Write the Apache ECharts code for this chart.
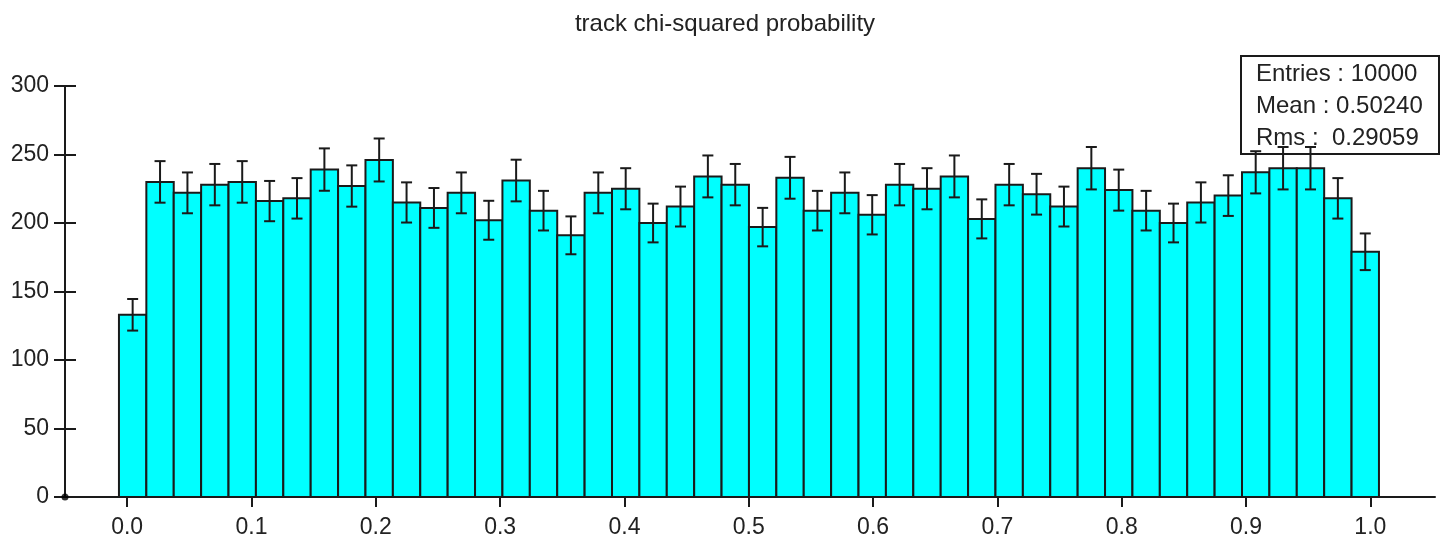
<!DOCTYPE html>
<html>
<head>
<meta charset="utf-8">
<style>
  html, body { margin: 0; padding: 0; background: #ffffff; }
  #chart { width: 1441px; height: 540px; }
</style>
<script src="https://cdn.jsdelivr.net/npm/echarts@6/dist/echarts.min.js"></script>
</head>
<body>
<div id="chart"></div>
<script>
// Histogram of track chi-squared probability: 46 equal-width bins.
const binCounts = [
  133, 230, 222, 228, 230, 216, 218, 239, 227, 246,
  215, 211, 222, 202, 231, 209, 191, 222, 225, 200,
  212, 234, 228, 197, 233, 209, 222, 206, 228, 225,
  234, 203, 228, 221, 212, 240, 224, 209, 200, 215,
  220, 237, 240, 240, 218, 179
];
const binStart = -0.0066;
const binWidth = 0.022033;

const xTickValues = [0.0, 0.1, 0.2, 0.3, 0.4, 0.5, 0.6, 0.7, 0.8, 0.9, 1.0];
const yTickValues = [0, 50, 100, 150, 200, 250, 300];

const titleText = 'track chi-squared probability';
const statsLines = ['Entries : 10000', 'Mean : 0.50240', 'Rms :  0.29059'];

const FONT = '"Liberation Sans", Arial, Helvetica, sans-serif';
const INK = '#1a1a1a';
const TEXT = '#222222';

// Bin rectangles: [lowEdge, highEdge, count]
const barData = binCounts.map((c, i) => [binStart + i * binWidth, binStart + (i + 1) * binWidth, c]);
// Poisson error bars: [binCentre, count - sqrt(count), count + sqrt(count)]
const errData = binCounts.map((c, i) => {
  const e = Math.sqrt(c);
  return [binStart + (i + 0.5) * binWidth, c - e, c + e];
});

const chart = echarts.init(document.getElementById('chart'), null, { renderer: 'canvas' });

const yBase = {
  type: 'value',
  min: yTickValues[0],
  max: yTickValues[yTickValues.length - 1],
  interval: 50,
  position: 'left',
  splitLine: { show: false }
};

chart.setOption({
  animation: false,
  backgroundColor: '#ffffff',
  title: {
    text: titleText,
    left: 720,
    top: 7,
    textAlign: 'center',
    textStyle: { fontFamily: FONT, fontSize: 24, fontWeight: 'normal', color: TEXT }
  },
  grid: { left: 65, right: 6, top: 86, bottom: 43, containLabel: false },
  xAxis: {
    type: 'value',
    min: -0.05,
    max: 1.052,
    splitLine: { show: false },
    axisLine: { show: true, onZero: false, lineStyle: { color: INK, width: 2 } },
    axisTick: {
      show: true, inside: false, length: 10,
      customValues: xTickValues,
      lineStyle: { color: INK, width: 2 }
    },
    axisLabel: {
      show: true,
      customValues: xTickValues,
      margin: 19,
      fontFamily: FONT, fontSize: 23, color: TEXT,
      formatter: v => Number(v).toFixed(1)
    }
  },
  yAxis: [
    Object.assign({}, yBase, {
      axisLine: { show: true, onZero: false, lineStyle: { color: INK, width: 2 } },
      axisTick: { show: true, inside: false, length: 11, lineStyle: { color: INK, width: 2 } },
      axisLabel: {
        show: true, margin: 16,
        fontFamily: FONT, fontSize: 23, color: TEXT,
        padding: [10, 0, 0, 0]
      }
    }),
    Object.assign({}, yBase, {
      axisLine: { show: false, onZero: false },
      axisTick: { show: true, inside: true, length: 11, lineStyle: { color: INK, width: 2 } },
      axisLabel: { show: false }
    })
  ],
  series: [
    {
      name: 'bins',
      type: 'custom',
      yAxisIndex: 0,
      data: barData,
      encode: { x: [0, 1], y: 2 },
      renderItem: function (params, api) {
        const p0 = api.coord([api.value(0), 0]);
        const p1 = api.coord([api.value(1), api.value(2)]);
        return {
          type: 'rect',
          shape: { x: p0[0], y: p1[1], width: p1[0] - p0[0], height: p0[1] - p1[1] },
          style: { fill: '#00ffff', stroke: INK, lineWidth: 2 }
        };
      },
      z: 2
    },
    {
      name: 'errors',
      type: 'custom',
      yAxisIndex: 0,
      data: errData,
      encode: { x: 0, y: [1, 2] },
      renderItem: function (params, api) {
        const lo = api.coord([api.value(0), api.value(1)]);
        const hi = api.coord([api.value(0), api.value(2)]);
        const half = 5.5;
        const st = { stroke: INK, lineWidth: 2 };
        return {
          type: 'group',
          children: [
            { type: 'line', shape: { x1: lo[0], y1: lo[1], x2: hi[0], y2: hi[1] }, style: st },
            { type: 'line', shape: { x1: lo[0] - half, y1: lo[1], x2: lo[0] + half, y2: lo[1] }, style: st },
            { type: 'line', shape: { x1: hi[0] - half, y1: hi[1], x2: hi[0] + half, y2: hi[1] }, style: st }
          ]
        };
      },
      z: 4
    },
    {
      // marker at the axes origin
      name: 'origin',
      type: 'scatter',
      data: [[-0.05, 0]],
      symbol: 'circle',
      symbolSize: 7,
      itemStyle: { color: '#000000' },
      clip: false,
      silent: true,
      z: 5
    }
  ],
  graphic: [
    {
      type: 'rect',
      shape: { x: 1241, y: 56, width: 198, height: 98 },
      style: { fill: 'none', stroke: INK, lineWidth: 2 },
      z: 3
    }
  ].concat(statsLines.map((t, i) => ({
    type: 'text',
    x: 1256,
    y: 74 + i * 32.3,
    style: {
      text: t,
      fontFamily: FONT,
      fontSize: 24,
      fill: TEXT,
      textVerticalAlign: 'middle',
      verticalAlign: 'middle'
    },
    z: 3
  })))
});
</script>
</body>
</html>
